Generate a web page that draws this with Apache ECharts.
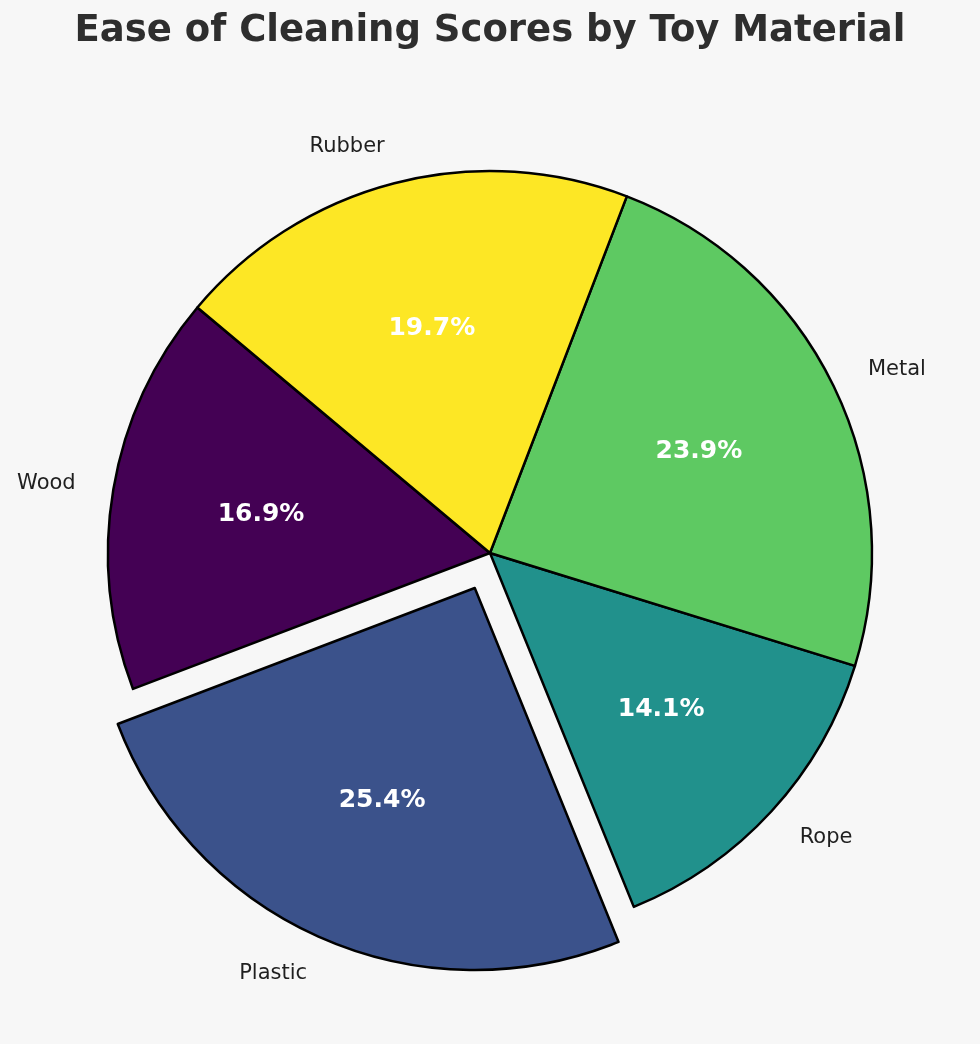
<!DOCTYPE html>
<html>
<head>
<meta charset="utf-8">
<script src="https://cdn.jsdelivr.net/npm/echarts@6/dist/echarts.min.js"></script>
<style>
html,body{margin:0;padding:0;background:#f7f7f7;}
#chart{width:980px;height:1044px;}
</style>
</head>
<body>
<div id="chart"></div>
<script>
const categories = ['Wood', 'Plastic', 'Rope', 'Metal', 'Rubber'];
const scores = [6, 9, 5, 8.5, 7];
const colors = ['#440154', '#3b528b', '#21918c', '#5ec962', '#fde725'];
const explodedName = 'Plastic';

const total = scores.reduce((a, b) => a + b, 0);
const R = 382;
const center = [490, 553];

const mainData = categories.map((c, i) => ({
  name: c,
  value: scores[i],
  selected: c === explodedName,
  itemStyle: { color: colors[i] }
}));
const pctData = categories.map((c, i) => ({
  name: c,
  value: scores[i],
  selected: c === explodedName
}));

const chart = echarts.init(document.getElementById('chart'), null, { renderer: 'canvas' });
chart.setOption({
  backgroundColor: '#f7f7f7',
  animation: false,
  title: {
    text: 'Ease of Cleaning Scores by Toy Material',
    left: 'center',
    top: 8,
    textStyle: { fontFamily: 'DejaVu Sans', fontWeight: 'bold', fontSize: 37, color: '#2e2e2e' }
  },
  series: [
    {
      type: 'pie',
      center: center,
      radius: [0, R],
      startAngle: 140,
      clockwise: false,
      selectedMode: 'single',
      selectedOffset: 0.1 * R,
      avoidLabelOverlap: false,
      emphasis: { disabled: true },
      itemStyle: { borderColor: '#000000', borderWidth: 2.5 },
      label: {
        show: true,
        position: 'outside',
        fontFamily: 'DejaVu Sans',
        fontSize: 21,
        color: '#1f1f1f',
        distanceToLabelLine: 0,
        formatter: '{b}'
      },
      labelLine: { show: false, length: 0.1 * R, length2: 0 },
      data: mainData
    },
    {
      type: 'pie',
      center: center,
      radius: [0.2 * R, R],
      startAngle: 140,
      clockwise: false,
      selectedMode: 'single',
      selectedOffset: 0.1 * R,
      silent: true,
      emphasis: { disabled: true },
      itemStyle: { color: 'rgba(0,0,0,0)', borderWidth: 0 },
      label: {
        show: true,
        position: 'inside',
        fontFamily: 'DejaVu Sans',
        fontWeight: 'bold',
        fontSize: 25,
        color: '#ffffff',
        formatter: p => (p.value / total * 100).toFixed(1) + '%'
      },
      labelLine: { show: false },
      data: pctData
    }
  ]
});
</script>
</body>
</html>
